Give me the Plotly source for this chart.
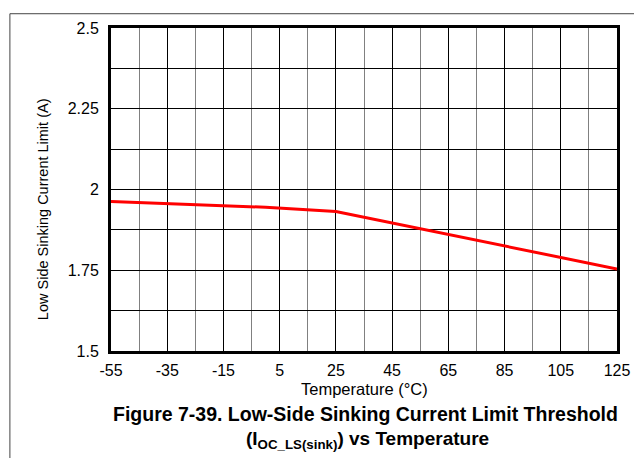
import plotly.graph_objects as go

temperature_c = [-55, 0, 25, 85, 125]
sink_current_a = [1.963, 1.945, 1.932, 1.826, 1.754]

x_tick_vals = [-55, -35, -15, 5, 25, 45, 65, 85, 105, 125]
x_tick_text = ["-55", "-35", "-15", "5", "25", "45", "65", "85", "105", "125"]
y_tick_vals = [1.5, 1.75, 2.0, 2.25, 2.5]
y_tick_text = ["1.5", "1.75", "2", "2.25", "2.5"]

FONT = "Liberation Sans, Arial, sans-serif"

# page body margin offset (browser default)
OFF = 8
W, H = 642 - OFF, 466 - 2 * OFF
# plot area in page pixels: x 111..624, y 23..351
L = 111 - OFF
T = 23 - OFF
R = W - (624 - OFF)
B = H - (351 - OFF)
PW, PH = W - L - R, H - T - B


def px(x):
    return (x - OFF - L) / PW


def py(y):
    return (H - B - (y - OFF)) / PH


fig = go.Figure()
fig.add_trace(go.Scatter(
    x=temperature_c, y=sink_current_a, mode="lines",
    line=dict(color="#ff0000", width=3), showlegend=False,
))

fig.update_layout(
    width=W, height=H,
    margin=dict(l=L, r=R, t=T, b=B, pad=0),
    paper_bgcolor="white", plot_bgcolor="white",
    font=dict(family=FONT, color="black", size=16),
    xaxis=dict(
        range=[-55, 125], tickvals=x_tick_vals, ticktext=x_tick_text, ticks="",
        showgrid=True, gridcolor="black", gridwidth=1,
        minor=dict(dtick=10, tick0=-55, showgrid=True, gridcolor="#808080", gridwidth=1),
        showline=True, linecolor="black", linewidth=3, mirror=True,
        zeroline=False, tickfont=dict(size=16), ticklabelstandoff=3,
        ticklabeloverflow="allow",
    ),
    yaxis=dict(
        range=[1.5, 2.5], tickvals=y_tick_vals, ticktext=y_tick_text, ticks="",
        showgrid=True, gridcolor="black", gridwidth=1,
        minor=dict(dtick=0.125, tick0=1.5, showgrid=True, gridcolor="black", gridwidth=1),
        showline=True, linecolor="black", linewidth=3, mirror=True,
        zeroline=False, tickfont=dict(size=16), ticklabelstandoff=6,
    ),
    annotations=[
        dict(text="Low Side Sinking Current Limit (A)", textangle=-90,
             x=px(42), y=py(207), xref="paper", yref="paper",
             xanchor="center", yanchor="middle", showarrow=False,
             font=dict(size=14.5)),
        dict(text="Temperature (°C)",
             x=px(368), y=py(390), xref="paper", yref="paper",
             xanchor="center", yanchor="middle", showarrow=False,
             font=dict(size=16.5)),
        dict(text="<b>Figure 7-39. Low-Side Sinking Current Limit Threshold</b>",
             x=px(369), y=py(415), xref="paper", yref="paper",
             xanchor="center", yanchor="middle", showarrow=False,
             font=dict(size=19.5)),
        dict(text="<b>(I<sub>OC_LS(sink)</sub>) vs Temperature</b>",
             x=px(371), y=py(441), xref="paper", yref="paper",
             xanchor="center", yanchor="middle", showarrow=False,
             font=dict(size=19)),
    ],
    shapes=[
        dict(type="line", xref="paper", yref="paper",
             x0=px(OFF + 0.5), x1=px(642), y0=py(OFF + 0.5), y1=py(OFF + 0.5),
             line=dict(color="#444444", width=1)),
        dict(type="line", xref="paper", yref="paper",
             x0=px(OFF + 0.5), x1=px(OFF + 0.5), y0=py(OFF + 0.5), y1=py(466),
             line=dict(color="#444444", width=1)),
    ],
)

fig.write_html("out.html")
